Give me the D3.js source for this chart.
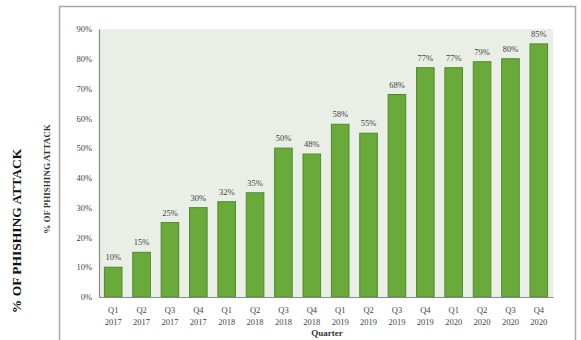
<!DOCTYPE html>
<html>
<head>
<meta charset="utf-8">
<script src="https://cdn.jsdelivr.net/npm/d3@7"></script>
<style>
  html, body { margin: 0; padding: 0; background: #fff; }
  svg { display: block; }
</style>
</head>
<body>
<svg id="chart" width="581" height="340"></svg>
<script>
// Share of phishing attacks per quarter
const quarters = ["Q1", "Q2", "Q3", "Q4", "Q1", "Q2", "Q3", "Q4", "Q1", "Q2", "Q3", "Q4", "Q1", "Q2", "Q3", "Q4"];
const years = ["2017", "2017", "2017", "2017", "2018", "2018", "2018", "2018", "2019", "2019", "2019", "2019", "2020", "2020", "2020", "2020"];
const values = [10, 15, 25, 30, 32, 35, 50, 48, 58, 55, 68, 77, 77, 79, 80, 85];
const yTicks = [0, 10, 20, 30, 40, 50, 60, 70, 80, 90];

const keys = quarters.map((q, i) => q + " " + years[i]);

const svg = d3.select("#chart");
const serif = "'Liberation Serif', 'DejaVu Serif', serif";

const plot = { left: 99, right: 553, top: 29, bottom: 297 };

const x = d3.scaleBand().domain(keys).range([plot.left, plot.right]).paddingInner(0.38).paddingOuter(0.19);
const y = d3.scaleLinear().domain([0, 90]).range([plot.bottom, plot.top]);

// outer frame
svg.append("rect")
  .attr("x", 59.5).attr("y", 6.5).attr("width", 516).attr("height", 345)
  .attr("fill", "#fff").attr("stroke", "#a9a9a9").attr("stroke-width", 1.5);

// plot background
svg.append("rect")
  .attr("x", plot.left).attr("y", plot.top)
  .attr("width", plot.right - plot.left).attr("height", plot.bottom - plot.top)
  .attr("fill", "#e9eee6");

// bars
svg.append("g").selectAll("rect").data(values).join("rect")
  .attr("x", (d, i) => x(keys[i]))
  .attr("y", d => y(d))
  .attr("width", x.bandwidth())
  .attr("height", d => y(0) - y(d))
  .attr("fill", "#6aaa3a")
  .attr("stroke", "#4e8a2c")
  .attr("stroke-width", 1);

// value labels
svg.append("g").selectAll("text").data(values).join("text")
  .attr("x", (d, i) => x(keys[i]) + x.bandwidth() / 2)
  .attr("y", d => y(d) - 7)
  .attr("text-anchor", "middle")
  .attr("font-family", serif)
  .attr("font-size", 8.5)
  .attr("fill", "#444")
  .text(d => d + "%");

// y axis
const yAxis = svg.append("g")
  .attr("transform", `translate(${plot.left},0)`)
  .call(d3.axisLeft(y).tickValues(yTicks).tickSize(0).tickPadding(7).tickFormat(d => d + "%"));
yAxis.select(".domain").attr("stroke", "#8a8a8a").attr("stroke-width", 1.2);
yAxis.selectAll("text").attr("font-family", serif).attr("font-size", 8.5).attr("fill", "#444");

// x axis
const xAxis = svg.append("g")
  .attr("transform", `translate(0,${plot.bottom})`)
  .call(d3.axisBottom(x).tickSize(0).tickFormat(() => ""));
xAxis.select(".domain").attr("stroke", "#8a8a8a").attr("stroke-width", 1.2);
xAxis.selectAll(".tick").each(function(d, i) {
  const t = d3.select(this).append("text")
    .attr("text-anchor", "middle")
    .attr("font-family", serif)
    .attr("font-size", 8.5)
    .attr("fill", "#444");
  t.append("tspan").attr("x", 0).attr("y", 16).text(quarters[i]);
  t.append("tspan").attr("x", 0).attr("y", 28).text(years[i]);
});

// x axis title
svg.append("text")
  .attr("x", (plot.left + plot.right) / 2 + 1)
  .attr("y", 336)
  .attr("text-anchor", "middle")
  .attr("font-family", serif)
  .attr("font-weight", "bold")
  .attr("font-size", 9)
  .attr("fill", "#333")
  .text("Quarter");

// inner y axis title
svg.append("text")
  .attr("transform", "translate(50,179) rotate(-90)")
  .attr("text-anchor", "middle")
  .attr("font-family", serif)
  .attr("font-weight", "bold")
  .attr("font-size", 9)
  .attr("fill", "#333")
  .text("% OF PHISHING ATTACK");

// outer y axis title
svg.append("text")
  .attr("transform", "translate(21,231) rotate(-90)")
  .attr("text-anchor", "middle")
  .attr("font-family", serif)
  .attr("font-weight", "bold")
  .attr("font-size", 13.5)
  .attr("fill", "#111")
  .text("% OF PHISHING ATTACK");
</script>
</body>
</html>
